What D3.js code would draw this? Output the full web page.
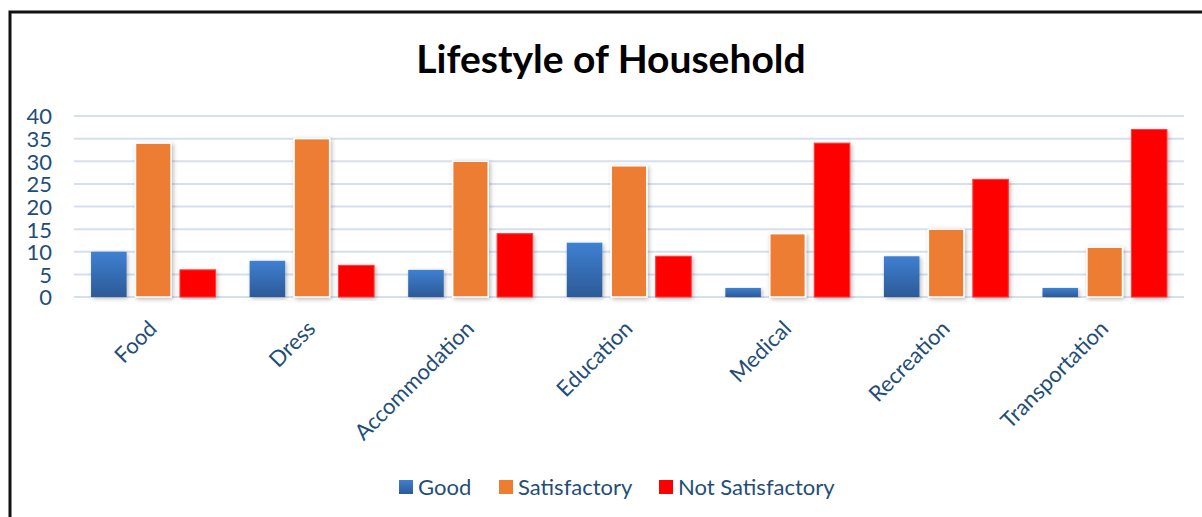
<!DOCTYPE html>
<html>
<head>
<meta charset="utf-8">
<script src="https://cdn.jsdelivr.net/npm/d3@7"></script>
<style>
  html, body { margin: 0; padding: 0; background: #fff; }
  svg { display: block; }
  text { font-family: Lato, "Open Sans", sans-serif; }
</style>
</head>
<body>
<svg id="chart" width="1202" height="517"></svg>
<script>
// Household lifestyle survey: counts per aspect and rating
const categories = ["Food", "Dress", "Accommodation", "Education", "Medical", "Recreation", "Transportation"];
const seriesNames = ["Good", "Satisfactory", "Not Satisfactory"];
const good = [10, 8, 6, 12, 2, 9, 2];
const satisfactory = [34, 35, 30, 29, 14, 15, 11];
const notSatisfactory = [6, 7, 14, 9, 34, 26, 37];
const yTicks = [0, 5, 10, 15, 20, 25, 30, 35, 40];

const seriesValues = [good, satisfactory, notSatisfactory];
const textColor = "#1f4e79";

const svg = d3.select("#chart");
const W = 1202, H = 517;

// frame
svg.append("rect").attr("x", 0).attr("y", 0).attr("width", W).attr("height", H).attr("fill", "#fff");
svg.append("path")
  .attr("d", `M10,${H + 5} L10,12 L${W + 5},12`)
  .attr("fill", "none").attr("stroke", "#111").attr("stroke-width", 3);

const defs = svg.append("defs");
const grad = defs.append("linearGradient").attr("id", "blueGrad").attr("x1", 0).attr("y1", 0).attr("x2", 0).attr("y2", 1);
grad.append("stop").attr("offset", "0%").attr("stop-color", "#3f80d2");
grad.append("stop").attr("offset", "100%").attr("stop-color", "#2c5a97");

const shadow = defs.append("filter").attr("id", "shadow").attr("x", "-30%").attr("y", "-10%").attr("width", "160%").attr("height", "120%");
shadow.append("feDropShadow").attr("dx", 1.5).attr("dy", 1.5).attr("stdDeviation", 2).attr("flood-color", "#000").attr("flood-opacity", 0.28);

// title
svg.append("text")
  .attr("x", 611).attr("y", 73)
  .attr("text-anchor", "middle")
  .attr("font-size", 39).attr("font-weight", 700).attr("fill", "#000")
  .text("Lifestyle of Household");

const x0 = d3.scaleBand().domain(categories).range([74, 1184]).paddingInner(0.215).paddingOuter(0.1075);
const x1 = d3.scaleBand().domain(seriesNames).range([0, x0.bandwidth()]).paddingInner(0.2);
const y = d3.scaleLinear().domain([0, 40]).range([297, 116]);

// gridlines
svg.append("g").selectAll("line").data(yTicks).join("line")
  .attr("x1", 74).attr("x2", 1184)
  .attr("y1", d => y(d)).attr("y2", d => y(d))
  .attr("stroke", "#d5e0ef").attr("stroke-width", 2);

// y axis labels
const yAxis = d3.axisLeft(y).tickValues(yTicks).tickSize(0).tickPadding(0);
const yg = svg.append("g").attr("transform", "translate(52,0)").call(yAxis);
yg.select(".domain").remove();
yg.selectAll("text").attr("font-size", 22).attr("fill", textColor).attr("dy", "0.36em")
  .style("font-family", "Lato, 'Open Sans', sans-serif");

// bars
const fills = ["url(#blueGrad)", "#ed7d31", "#ff0000"];
const groups = svg.append("g").selectAll("g").data(categories).join("g")
  .attr("transform", d => `translate(${x0(d)},0)`);
groups.selectAll("rect")
  .data((c, i) => seriesNames.map((s, k) => ({ s, k, v: seriesValues[k][i] })))
  .join("rect")
  .attr("x", d => x1(d.s))
  .attr("width", x1.bandwidth())
  .attr("y", d => y(d.v))
  .attr("height", d => y(0) - y(d.v))
  .attr("fill", d => fills[d.k])
  .attr("stroke", d => d.k === 1 ? "#fff" : (d.k === 2 ? "#ff3b3b" : "none"))
  .attr("stroke-width", d => d.k === 1 ? 1.5 : 1)
  .attr("filter", "url(#shadow)");

// x axis labels
const xAxis = d3.axisBottom(x0).tickSize(0).tickPadding(0);
const xg = svg.append("g").attr("transform", "translate(0,297)").call(xAxis);
xg.select(".domain").remove();
xg.selectAll("text")
  .attr("font-size", 22).attr("fill", textColor)
  .style("font-family", "Lato, 'Open Sans', sans-serif")
  .attr("text-anchor", "end")
  .attr("y", 0).attr("dy", 0)
  .attr("transform", "translate(5,33) rotate(-45)");

// legend
const legendItems = [
  { name: "Good", fill: "url(#blueGrad)", x: 399 },
  { name: "Satisfactory", fill: "#ed7d31", x: 499 },
  { name: "Not Satisfactory", fill: "#ff0000", x: 659 }
];
const lg = svg.append("g").selectAll("g").data(legendItems).join("g")
  .attr("transform", d => `translate(${d.x},487)`);
lg.append("rect").attr("x", 0).attr("y", -7).attr("width", 14).attr("height", 14).attr("fill", d => d.fill);
lg.append("text").attr("x", 19).attr("y", 0).attr("dy", "0.36em")
  .attr("font-size", 22).attr("fill", textColor).text(d => d.name);
</script>
</body>
</html>
